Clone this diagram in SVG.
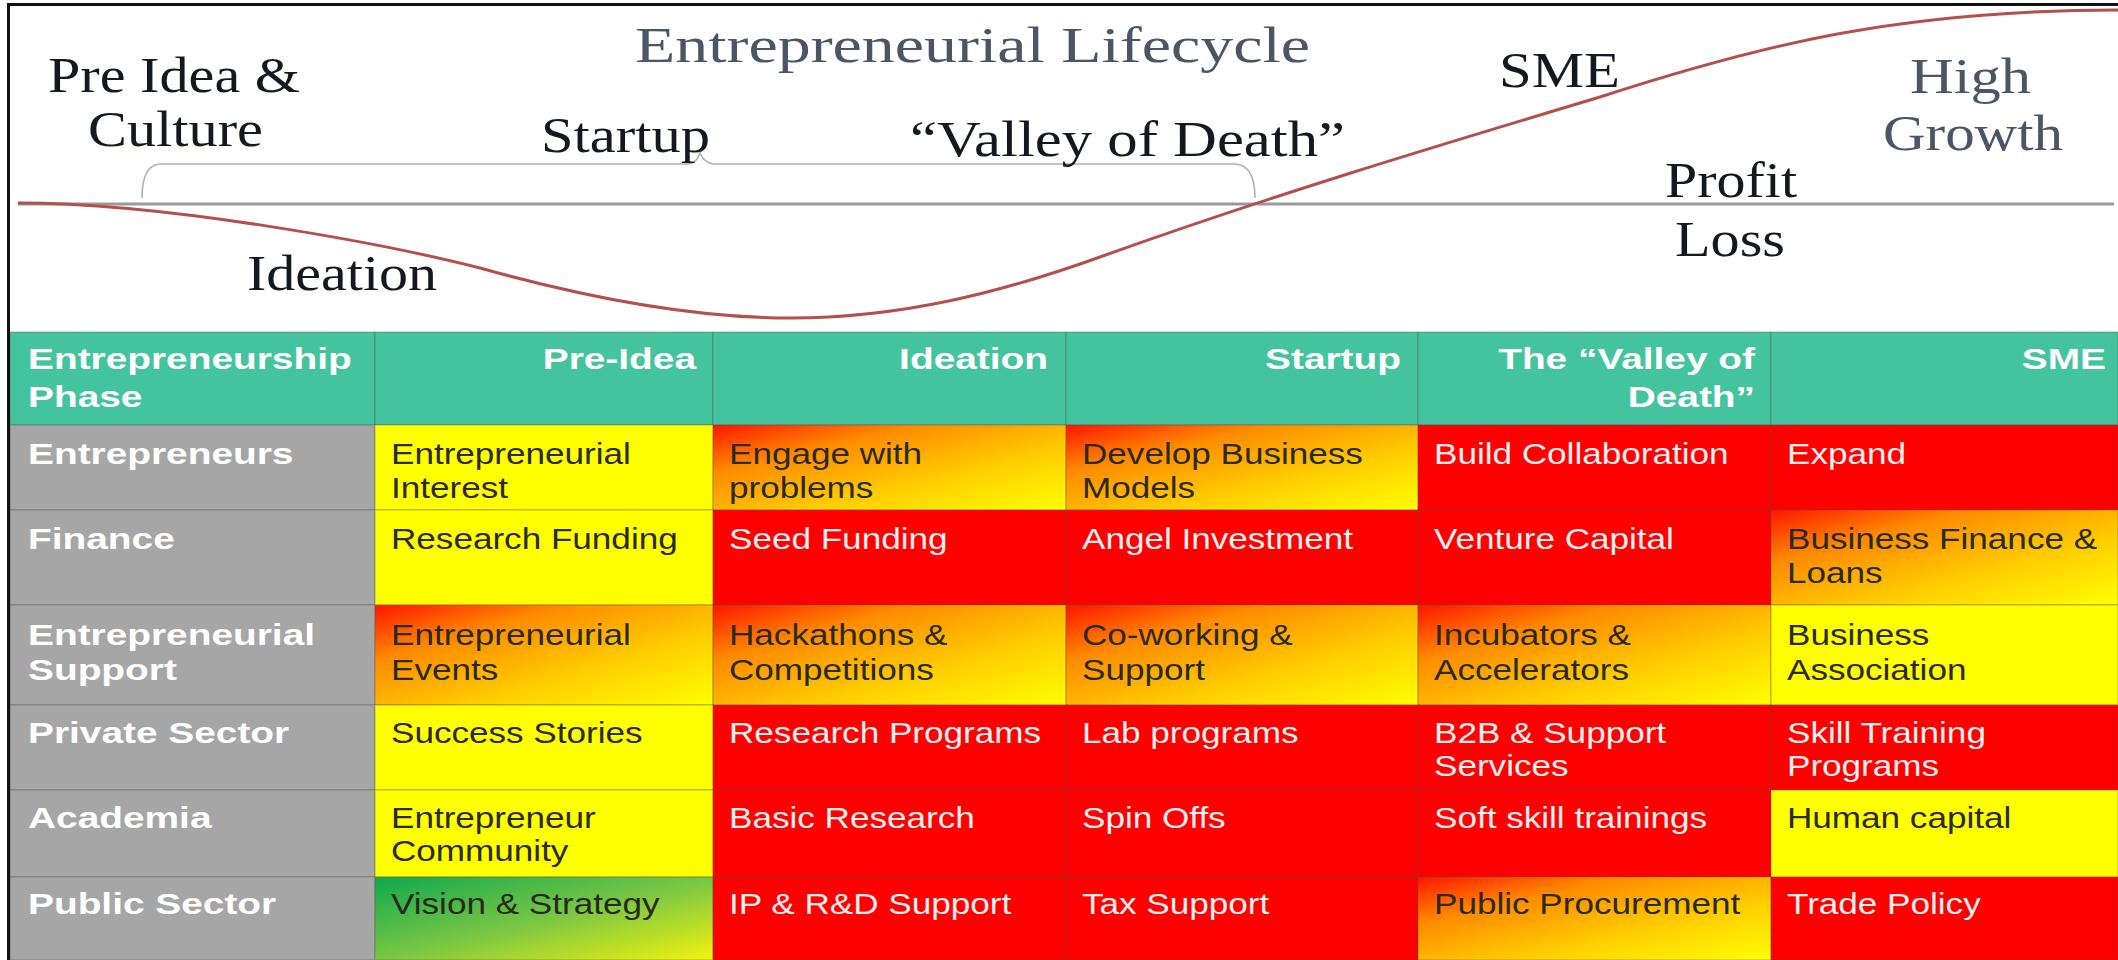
<svg xmlns="http://www.w3.org/2000/svg" width="2118" height="960" viewBox="0 0 2118 960">
<defs>
<style>
.hdr{fill:#44C49E}
.lbl{fill:#A6A6A6}
.y{fill:#FFFF00}
.r{fill:#FF0000}
.o{fill:url(#gOrange)}
.g{fill:url(#gGreen)}
.cell{stroke:#5a5048;stroke-opacity:.28;stroke-width:1.5}
.tb{font-family:"Liberation Sans",Arial,sans-serif;font-weight:bold;font-size:29px;fill:#ffffff}
.tr{font-family:"Liberation Sans",Arial,sans-serif;font-size:29.5px}
.dk{fill:#2a2a1a}
.wt{fill:#fdf0f0}
.serif{font-family:"Liberation Serif","Times New Roman",serif;font-size:50px;fill:#141820}
.slate{fill:#4a5568}
.end{text-anchor:end}
</style>
<linearGradient id="gOrange" x1="0" y1="0" x2="1" y2="1">
<stop offset="0" stop-color="#FF1500"/>
<stop offset="0.28" stop-color="#FF8A00"/>
<stop offset="0.62" stop-color="#FFCA00"/>
<stop offset="1" stop-color="#FFFF00"/>
</linearGradient>
<linearGradient id="gGreen" x1="0" y1="0" x2="1" y2="1">
<stop offset="0" stop-color="#0FA84F"/>
<stop offset="0.5" stop-color="#78C644"/>
<stop offset="1" stop-color="#F2F20E"/>
</linearGradient>
</defs>
<rect x="0" y="0" width="2118" height="960" fill="#ffffff"/>

<g id="lifecycle">
<line x1="18" y1="204" x2="2114" y2="204" stroke="#9a9a9a" stroke-width="3"/>
<path d="M142,198 Q142,165 160,164 L688,164 Q697,163 700,153 Q704,163 714,164 L1235,164 Q1255,165 1255,198" fill="none" stroke="#b0b0b0" stroke-width="1.6"/>
<path d="M18,203 C170,203 390,245 480,268 C580,296 690,318 790,318 C900,318 1000,293 1100,257 C1270,196 1430,148 1600,97 C1760,45 1900,10 2118,10" fill="none" stroke="#B4504C" stroke-width="3"/>
<text class="serif slate" x="635" y="62" font-size="58" textLength="675" lengthAdjust="spacingAndGlyphs">Entrepreneurial Lifecycle</text>
<text class="serif" x="48" y="92" textLength="252" lengthAdjust="spacingAndGlyphs">Pre Idea &amp;</text>
<text class="serif" x="88" y="146" textLength="175" lengthAdjust="spacingAndGlyphs">Culture</text>
<text class="serif" x="541" y="152" textLength="169" lengthAdjust="spacingAndGlyphs">Startup</text>
<text class="serif" x="910" y="156" textLength="435" lengthAdjust="spacingAndGlyphs">“Valley of Death”</text>
<text class="serif" x="247" y="290" textLength="190" lengthAdjust="spacingAndGlyphs">Ideation</text>
<text class="serif" x="1499" y="87" textLength="121" lengthAdjust="spacingAndGlyphs">SME</text>
<text class="serif slate" x="1910" y="93" textLength="121" lengthAdjust="spacingAndGlyphs">High</text>
<text class="serif slate" x="1883" y="150" textLength="180" lengthAdjust="spacingAndGlyphs">Growth</text>
<text class="serif" x="1665" y="197" textLength="132" lengthAdjust="spacingAndGlyphs">Profit</text>
<text class="serif" x="1675" y="256" textLength="110" lengthAdjust="spacingAndGlyphs">Loss</text>
</g>

<g id="table">
<g id="header">
<rect class="hdr cell" x="10" y="332" width="365" height="93"/>
<rect class="hdr cell" x="375" y="332" width="338" height="93"/>
<rect class="hdr cell" x="713" y="332" width="353" height="93"/>
<rect class="hdr cell" x="1066" y="332" width="352" height="93"/>
<rect class="hdr cell" x="1418" y="332" width="353" height="93"/>
<rect class="hdr cell" x="1771" y="332" width="347" height="93"/>
<text class="tb" transform="translate(28 369) scale(1.34 1)"><tspan x="0" y="0">Entrepreneurship</tspan><tspan x="0" y="38">Phase</tspan></text>
<text class="tb end" transform="translate(696 369) scale(1.34 1)">Pre-Idea</text>
<text class="tb end" transform="translate(1048 369) scale(1.34 1)">Ideation</text>
<text class="tb end" transform="translate(1401 369) scale(1.34 1)">Startup</text>
<text class="tb end" transform="translate(1755 369) scale(1.34 1)"><tspan x="0" y="0">The “Valley of</tspan><tspan x="0" y="38">Death”</tspan></text>
<text class="tb end" transform="translate(2106 369) scale(1.34 1)">SME</text>
</g>

<g id="row-entrepreneurs">
<rect class="lbl cell" x="10" y="425" width="365" height="85"/>
<rect class="y cell" x="375" y="425" width="338" height="85"/>
<rect class="o cell" x="713" y="425" width="353" height="85"/>
<rect class="o cell" x="1066" y="425" width="352" height="85"/>
<rect class="r cell" x="1418" y="425" width="353" height="85"/>
<rect class="r cell" x="1771" y="425" width="347" height="85"/>
<text class="tb" transform="translate(28 464) scale(1.34 1)">Entrepreneurs</text>
<text class="tr dk" transform="translate(391 464) scale(1.19 1)"><tspan x="0" y="0">Entrepreneurial</tspan><tspan x="0" y="34">Interest</tspan></text>
<text class="tr dk" transform="translate(729 464) scale(1.19 1)"><tspan x="0" y="0">Engage with</tspan><tspan x="0" y="34">problems</tspan></text>
<text class="tr dk" transform="translate(1082 464) scale(1.19 1)"><tspan x="0" y="0">Develop Business</tspan><tspan x="0" y="34">Models</tspan></text>
<text class="tr wt" transform="translate(1434 464) scale(1.19 1)">Build Collaboration</text>
<text class="tr wt" transform="translate(1787 464) scale(1.19 1)">Expand</text>
</g>

<g id="row-finance">
<rect class="lbl cell" x="10" y="510" width="365" height="95"/>
<rect class="y cell" x="375" y="510" width="338" height="95"/>
<rect class="r cell" x="713" y="510" width="353" height="95"/>
<rect class="r cell" x="1066" y="510" width="352" height="95"/>
<rect class="r cell" x="1418" y="510" width="353" height="95"/>
<rect class="o cell" x="1771" y="510" width="347" height="95"/>
<text class="tb" transform="translate(28 549) scale(1.34 1)">Finance</text>
<text class="tr dk" transform="translate(391 549) scale(1.19 1)">Research Funding</text>
<text class="tr wt" transform="translate(729 549) scale(1.19 1)">Seed Funding</text>
<text class="tr wt" transform="translate(1082 549) scale(1.19 1)">Angel Investment</text>
<text class="tr wt" transform="translate(1434 549) scale(1.19 1)">Venture Capital</text>
<text class="tr dk" transform="translate(1787 549) scale(1.19 1)"><tspan x="0" y="0">Business Finance &amp;</tspan><tspan x="0" y="34">Loans</tspan></text>
</g>

<g id="row-support">
<rect class="lbl cell" x="10" y="605" width="365" height="100"/>
<rect class="o cell" x="375" y="605" width="338" height="100"/>
<rect class="o cell" x="713" y="605" width="353" height="100"/>
<rect class="o cell" x="1066" y="605" width="352" height="100"/>
<rect class="o cell" x="1418" y="605" width="353" height="100"/>
<rect class="y cell" x="1771" y="605" width="347" height="100"/>
<text class="tb" transform="translate(28 645) scale(1.34 1)"><tspan x="0" y="0">Entrepreneurial</tspan><tspan x="0" y="35">Support</tspan></text>
<text class="tr dk" transform="translate(391 645) scale(1.19 1)"><tspan x="0" y="0">Entrepreneurial</tspan><tspan x="0" y="35">Events</tspan></text>
<text class="tr dk" transform="translate(729 645) scale(1.19 1)"><tspan x="0" y="0">Hackathons &amp;</tspan><tspan x="0" y="35">Competitions</tspan></text>
<text class="tr dk" transform="translate(1082 645) scale(1.19 1)"><tspan x="0" y="0">Co-working &amp;</tspan><tspan x="0" y="35">Support</tspan></text>
<text class="tr dk" transform="translate(1434 645) scale(1.19 1)"><tspan x="0" y="0">Incubators &amp;</tspan><tspan x="0" y="35">Accelerators</tspan></text>
<text class="tr dk" transform="translate(1787 645) scale(1.19 1)"><tspan x="0" y="0">Business</tspan><tspan x="0" y="35">Association</tspan></text>
</g>

<g id="row-private">
<rect class="lbl cell" x="10" y="705" width="365" height="85"/>
<rect class="y cell" x="375" y="705" width="338" height="85"/>
<rect class="r cell" x="713" y="705" width="353" height="85"/>
<rect class="r cell" x="1066" y="705" width="352" height="85"/>
<rect class="r cell" x="1418" y="705" width="353" height="85"/>
<rect class="r cell" x="1771" y="705" width="347" height="85"/>
<text class="tb" transform="translate(28 743) scale(1.34 1)">Private Sector</text>
<text class="tr dk" transform="translate(391 743) scale(1.19 1)">Success Stories</text>
<text class="tr wt" transform="translate(729 743) scale(1.19 1)">Research Programs</text>
<text class="tr wt" transform="translate(1082 743) scale(1.19 1)">Lab programs</text>
<text class="tr wt" transform="translate(1434 743) scale(1.19 1)"><tspan x="0" y="0">B2B &amp; Support</tspan><tspan x="0" y="33">Services</tspan></text>
<text class="tr wt" transform="translate(1787 743) scale(1.19 1)"><tspan x="0" y="0">Skill Training</tspan><tspan x="0" y="33">Programs</tspan></text>
</g>

<g id="row-academia">
<rect class="lbl cell" x="10" y="790" width="365" height="87"/>
<rect class="y cell" x="375" y="790" width="338" height="87"/>
<rect class="r cell" x="713" y="790" width="353" height="87"/>
<rect class="r cell" x="1066" y="790" width="352" height="87"/>
<rect class="r cell" x="1418" y="790" width="353" height="87"/>
<rect class="y cell" x="1771" y="790" width="347" height="87"/>
<text class="tb" transform="translate(28 828) scale(1.34 1)">Academia</text>
<text class="tr dk" transform="translate(391 828) scale(1.19 1)"><tspan x="0" y="0">Entrepreneur</tspan><tspan x="0" y="33">Community</tspan></text>
<text class="tr wt" transform="translate(729 828) scale(1.19 1)">Basic Research</text>
<text class="tr wt" transform="translate(1082 828) scale(1.19 1)">Spin Offs</text>
<text class="tr wt" transform="translate(1434 828) scale(1.19 1)">Soft skill trainings</text>
<text class="tr dk" transform="translate(1787 828) scale(1.19 1)">Human capital</text>
</g>

<g id="row-public">
<rect class="lbl cell" x="10" y="877" width="365" height="83"/>
<rect class="g cell" x="375" y="877" width="338" height="83"/>
<rect class="r cell" x="713" y="877" width="353" height="83"/>
<rect class="r cell" x="1066" y="877" width="352" height="83"/>
<rect class="o cell" x="1418" y="877" width="353" height="83"/>
<rect class="r cell" x="1771" y="877" width="347" height="83"/>
<text class="tb" transform="translate(28 914) scale(1.34 1)">Public Sector</text>
<text class="tr dk" transform="translate(391 914) scale(1.19 1)">Vision &amp; Strategy</text>
<text class="tr wt" transform="translate(729 914) scale(1.19 1)">IP &amp; R&amp;D Support</text>
<text class="tr wt" transform="translate(1082 914) scale(1.19 1)">Tax Support</text>
<text class="tr dk" transform="translate(1434 914) scale(1.19 1)">Public Procurement</text>
<text class="tr wt" transform="translate(1787 914) scale(1.19 1)">Trade Policy</text>
</g>
</g>

<g id="frame">
<rect x="7" y="3" width="2111" height="3" fill="#111111"/>
<rect x="7" y="3" width="3" height="957" fill="#111111"/>
</g>
</svg>
